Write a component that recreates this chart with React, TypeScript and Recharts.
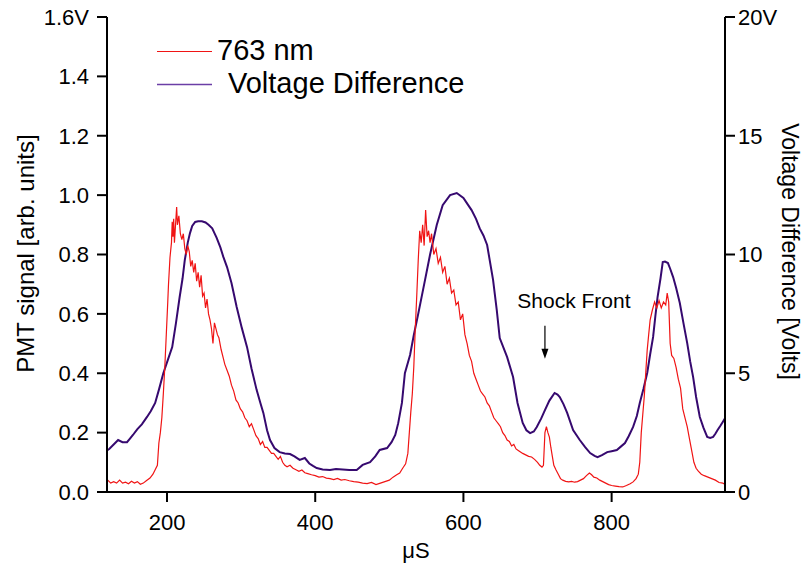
import { LineChart, Line, XAxis, YAxis, ReferenceDot } from "recharts";

const FONT = "'Liberation Sans', Arial, Helvetica, sans-serif";
const RED = "#f01414";
const PURPLE = "#36096f";

const xTicks = [200, 400, 600, 800];
const pmtTicks = [0, 0.2, 0.4, 0.6, 0.8, 1.0, 1.2, 1.4, 1.6];
const voltTicks = [0, 5, 10, 15, 20];

// [time µS, PMT signal]
const pmtSignal: [number, number][] = [
  [120, 0.04], [124, 0.03], [128, 0.035], [132, 0.03], [136, 0.04], [140, 0.03], [144, 0.033],
  [148, 0.028], [152, 0.036], [156, 0.03], [160, 0.035], [164, 0.026], [168, 0.03], [172, 0.038],
  [177, 0.047], [181, 0.06], [184, 0.075], [187, 0.09], [189, 0.165], [191, 0.2], [193, 0.25],
  [195, 0.33], [197, 0.42], [199, 0.53], [201, 0.64], [202, 0.7], [204, 0.79], [206, 0.84],
  [207, 0.91], [208, 0.86], [209, 0.92], [210, 0.84], [211, 0.88], [213, 0.96], [214, 0.9],
  [216, 0.93], [218, 0.87], [220, 0.85], [222, 0.87], [224, 0.82], [226, 0.8], [228, 0.83],
  [230, 0.81], [232, 0.76], [234, 0.78], [236, 0.74], [238, 0.77], [240, 0.71], [242, 0.74],
  [244, 0.69], [246, 0.73], [248, 0.66], [250, 0.67], [252, 0.62], [254, 0.65], [256, 0.6],
  [258, 0.58], [260, 0.55], [262, 0.5], [264, 0.57], [266, 0.55], [268, 0.53], [270, 0.52],
  [273, 0.48], [276, 0.45], [278, 0.43], [281, 0.41], [284, 0.39], [287, 0.36], [290, 0.34],
  [293, 0.31], [296, 0.3], [299, 0.28], [302, 0.27], [305, 0.25], [308, 0.24], [311, 0.22],
  [314, 0.23], [317, 0.21], [320, 0.19], [323, 0.18], [326, 0.16], [329, 0.17], [332, 0.15],
  [335, 0.15], [338, 0.14], [341, 0.13], [344, 0.13], [347, 0.12], [350, 0.11], [353, 0.12],
  [356, 0.1], [359, 0.09], [362, 0.085], [366, 0.09], [370, 0.08], [374, 0.075], [378, 0.07],
  [382, 0.074], [386, 0.065], [390, 0.062], [395, 0.058], [400, 0.055], [405, 0.05], [410, 0.052],
  [415, 0.047], [420, 0.045], [425, 0.042], [430, 0.046], [435, 0.04], [440, 0.042], [446, 0.038],
  [452, 0.035], [458, 0.033], [464, 0.03], [470, 0.028], [476, 0.032], [482, 0.025], [488, 0.03],
  [494, 0.035], [500, 0.04], [505, 0.05], [510, 0.058], [514, 0.064], [518, 0.08], [522, 0.095],
  [525, 0.13], [527, 0.2], [529, 0.27], [531, 0.33], [533, 0.42], [535, 0.55], [537, 0.66],
  [539, 0.78], [541, 0.88], [543, 0.84], [545, 0.9], [547, 0.83], [549, 0.95], [551, 0.86],
  [553, 0.88], [555, 0.84], [557, 0.87], [560, 0.8], [563, 0.82], [566, 0.77], [569, 0.79],
  [572, 0.74], [575, 0.76], [578, 0.7], [581, 0.72], [584, 0.67], [587, 0.68], [590, 0.63],
  [593, 0.64], [596, 0.58], [599, 0.6], [602, 0.53], [605, 0.5], [608, 0.46], [611, 0.44],
  [614, 0.4], [617, 0.38], [620, 0.36], [623, 0.34], [626, 0.33], [629, 0.32], [632, 0.3],
  [635, 0.29], [638, 0.27], [641, 0.25], [644, 0.24], [647, 0.23], [650, 0.22], [653, 0.2],
  [656, 0.19], [659, 0.175], [662, 0.17], [665, 0.155], [668, 0.16], [671, 0.145], [674, 0.14],
  [677, 0.135], [680, 0.13], [684, 0.125], [688, 0.12], [692, 0.118], [696, 0.11], [700, 0.1],
  [703, 0.09], [706, 0.084], [708, 0.09], [710, 0.2], [712, 0.22], [714, 0.2], [716, 0.185],
  [718, 0.15], [720, 0.12], [722, 0.09], [725, 0.074], [728, 0.06], [731, 0.045], [734, 0.04],
  [738, 0.036], [742, 0.034], [746, 0.036], [750, 0.033], [754, 0.035], [758, 0.04], [762, 0.045],
  [766, 0.055], [770, 0.064], [773, 0.058], [776, 0.05], [780, 0.047], [784, 0.04], [788, 0.035],
  [792, 0.03], [796, 0.025], [800, 0.022], [805, 0.02], [810, 0.018], [815, 0.017], [820, 0.022],
  [825, 0.028], [829, 0.034], [833, 0.045], [836, 0.06], [838, 0.1], [840, 0.2], [842, 0.26],
  [844, 0.32], [846, 0.4], [848, 0.478], [850, 0.53], [852, 0.58], [855, 0.613], [858, 0.64],
  [861, 0.62], [864, 0.645], [867, 0.62], [870, 0.64], [873, 0.63], [875, 0.67], [877, 0.64],
  [879, 0.5], [881, 0.46], [884, 0.45], [887, 0.42], [890, 0.38], [893, 0.35], [896, 0.28],
  [899, 0.25], [902, 0.22], [905, 0.18], [908, 0.14], [911, 0.1], [914, 0.08], [917, 0.07],
  [921, 0.06], [925, 0.055], [930, 0.05], [935, 0.045], [940, 0.04], [945, 0.032], [950, 0.03],
  [953, 0.025],
];

// [time µS, voltage difference in volts]
const voltageDiff: [number, number][] = [
  [119, 1.75], [122, 1.81], [128, 2.0], [134, 2.19], [140, 2.1], [146, 2.1], [150, 2.25],
  [154, 2.4], [160, 2.65], [166, 2.85], [173, 3.16], [178, 3.4], [184, 3.75], [189, 4.3],
  [195, 5.0], [201, 5.55], [207, 6.1], [212, 7.1], [217, 8.2], [221, 9.0], [224, 9.77],
  [228, 10.5], [231, 10.9], [234, 11.2], [238, 11.37], [242, 11.4], [247, 11.4], [252, 11.35],
  [256, 11.25], [261, 11.1], [264, 10.9], [267, 10.7], [272, 10.3], [276, 9.9], [281, 9.47],
  [287, 8.8], [294, 7.79], [301, 6.9], [308, 6.1], [314, 5.2], [321, 4.29], [326, 3.75],
  [330, 3.33], [335, 2.6], [339, 2.19], [345, 1.85], [352, 1.68], [359, 1.62], [366, 1.6],
  [372, 1.5], [379, 1.35], [386, 1.43], [392, 1.2], [397, 1.1], [402, 1.01], [410, 0.95],
  [420, 0.93], [428, 0.97], [437, 0.95], [446, 0.93], [456, 0.93], [464, 1.14], [474, 1.26],
  [481, 1.5], [487, 1.77], [497, 1.85], [503, 2.1], [508, 2.4], [512, 2.9], [517, 3.75],
  [521, 5.0], [528, 5.77], [533, 6.6], [539, 7.5], [548, 8.9], [555, 10.0], [564, 11.24],
  [572, 12.08], [582, 12.5], [591, 12.59], [600, 12.38], [606, 12.1], [611, 11.87], [617, 11.5],
  [622, 11.1], [627, 10.8], [632, 10.4], [640, 8.93], [645, 7.66], [649, 6.48], [659, 5.68],
  [667, 4.84], [673, 3.75], [680, 2.91], [685, 2.6], [690, 2.48], [695, 2.55], [699, 2.74],
  [705, 3.1], [710, 3.45], [716, 3.85], [723, 4.17], [727, 4.1], [730, 4.0], [735, 3.7],
  [740, 3.33], [748, 2.61], [757, 2.19], [764, 1.9], [771, 1.64], [777, 1.52], [781, 1.47],
  [787, 1.55], [794, 1.68], [800, 1.72], [807, 1.77], [812, 1.9], [818, 2.06], [823, 2.35],
  [829, 2.74], [834, 3.2], [838, 3.75], [843, 4.35], [848, 5.01], [852, 5.8], [856, 6.53],
  [859, 7.4], [862, 8.21], [866, 9.0], [869, 9.68], [872, 9.7], [876, 9.64], [879, 9.4],
  [883, 9.05], [887, 8.6], [892, 7.96], [897, 7.1], [902, 6.27], [906, 5.5], [910, 4.84],
  [914, 4.0], [919, 3.16], [924, 2.7], [929, 2.32], [933, 2.28], [937, 2.32], [940, 2.45],
  [943, 2.61], [947, 2.8], [950, 2.95], [953, 3.1],
];

// where the shock front arrow points
const shockFront = { t: 710, pmt: 0.56 };

const pmtData = pmtSignal.map(([t, v]) => ({ t, pmt: v }));
const voltData = voltageDiff.map(([t, v]) => ({ t, volt: v }));

const axisStroke = { stroke: "#000", strokeWidth: 2 };
const tickStyle = { fill: "#000", fontSize: 22, fontFamily: FONT };

const ShockMarker = (props: any) => {
  const { cx, cy } = props;
  return (
    <g>
      <text x={cx + 29} y={cy - 18} textAnchor="middle" fontSize={21} fontFamily={FONT} fill="#000">
        Shock Front
      </text>
      <line x1={cx} y1={cy} x2={cx} y2={cy + 26} stroke="#000" strokeWidth={1.2} />
      <polygon points={`${cx - 3.5},${cy + 23} ${cx + 3.5},${cy + 23} ${cx},${cy + 33}`} fill="#000" />
    </g>
  );
};

const LeftTitle = (props: any) => {
  const { x, y, height } = props.viewBox;
  const cx = x + 34;
  const cy = y + height / 2 - 1;
  return (
    <text x={cx} y={cy} transform={`rotate(-90 ${cx} ${cy})`} textAnchor="middle" fontSize={24} fontFamily={FONT} fill="#000">
      PMT signal [arb. units]
    </text>
  );
};

const RightTitle = (props: any) => {
  const { x, y, height } = props.viewBox;
  const cx = x + 57;
  const cy = y + height / 2 - 3;
  return (
    <text x={cx} y={cy} transform={`rotate(90 ${cx} ${cy})`} textAnchor="middle" fontSize={23} fontFamily={FONT} fill="#000">
      Voltage Difference [Volts]
    </text>
  );
};

const BottomTitle = (props: any) => {
  const { x, y, width } = props.viewBox;
  return (
    <text x={x + width / 2} y={y + 66} textAnchor="middle" fontSize={22} fontFamily={FONT} fill="#000">
      μS
    </text>
  );
};

export default function App() {
  return (
    <div style={{ position: "absolute", left: 0, top: 0, width: 806, height: 569, background: "#fff" }}>
      <LineChart width={806} height={569} margin={{ top: 17, right: 0, bottom: 0, left: 0 }}>
        <XAxis
          dataKey="t"
          type="number"
          domain={[119, 953]}
          allowDataOverflow
          ticks={xTicks}
          height={77}
          axisLine={axisStroke}
          tickLine={axisStroke}
          tickSize={10}
          tickMargin={12}
          tick={tickStyle}
          label={BottomTitle}
        />
        <YAxis
          yAxisId="left"
          orientation="left"
          width={107}
          domain={[0, 1.6]}
          ticks={pmtTicks}
          tickFormatter={(v: number) => (v === 1.6 ? "1.6V" : v.toFixed(1))}
          axisLine={axisStroke}
          tickLine={axisStroke}
          tickSize={10}
          tickMargin={8}
          tick={tickStyle}
          label={LeftTitle}
        />
        <YAxis
          yAxisId="right"
          orientation="right"
          width={81}
          domain={[0, 20]}
          ticks={voltTicks}
          tickFormatter={(v: number) => (v === 20 ? "20V" : String(v))}
          axisLine={axisStroke}
          tickLine={axisStroke}
          tickSize={10}
          tickMargin={3}
          tick={tickStyle}
          label={RightTitle}
        />
        <Line
          yAxisId="right"
          data={voltData}
          dataKey="volt"
          type="linear"
          stroke={PURPLE}
          strokeWidth={2}
          dot={false}
          isAnimationActive={false}
        />
        <Line
          yAxisId="left"
          data={pmtData}
          dataKey="pmt"
          type="linear"
          stroke={RED}
          strokeWidth={1.2}
          dot={false}
          isAnimationActive={false}
        />
        <ReferenceDot
          yAxisId="left"
          x={shockFront.t}
          y={shockFront.pmt}
          shape={ShockMarker}
        />
      </LineChart>
      <svg width={806} height={120} style={{ position: "absolute", left: 0, top: 0, pointerEvents: "none" }}>
        <line x1={157} y1={51.5} x2={212} y2={51.5} stroke={RED} strokeWidth={1.2} />
        <text x={217} y={60} fontSize={29} fontFamily={FONT} fill="#000">763 nm</text>
        <line x1={157} y1={84.5} x2={212} y2={84.5} stroke="#6b3fa6" strokeWidth={1.5} />
        <text x={228} y={93} fontSize={29} fontFamily={FONT} fill="#000">Voltage Difference</text>
      </svg>
    </div>
  );
}
